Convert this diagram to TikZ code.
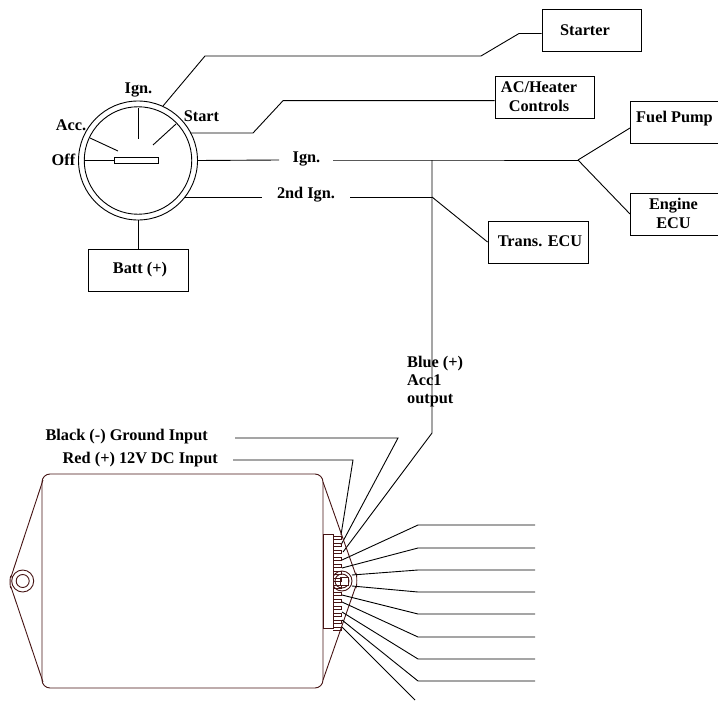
\documentclass[tikz,border=0pt]{standalone}
\usepackage{fontspec}
\setmainfont{Liberation Serif}
\tikzset{
  box/.style={draw,line width=0.9pt,rectangle},
  lbl/.style={font=\fontsize{16.3}{19}\selectfont\bfseries,inner sep=0pt,align=center},
  wire/.style={draw,line width=0.9pt},
  body/.style={draw=maroonc,line width=0.9pt},
}
\definecolor{maroonc}{RGB}{70,20,20}
\begin{document}
\begin{tikzpicture}[x=1pt,y=-1pt]
\useasboundingbox (0,0) rectangle (718,701);
% switch
\node[draw,circle,minimum size=119pt,inner sep=0pt,line width=0.9pt] (swo) at (138,160.5) {};
\node[draw,circle,minimum size=107.5pt,inner sep=0pt,line width=0.9pt] (swi) at (138,160.5) {};
\node[draw,line width=0.9pt,minimum width=44pt,minimum height=6pt,inner sep=0pt] (bar) at (136,160.5) {};
\coordinate (offp) at (84.3,160.5);
\draw[wire] (offp) -- (bar.west);
\coordinate (t1a) at (138,108); \coordinate (t1b) at (138,139);
\draw[wire] (t1a) -- (t1b);
\coordinate (t2a) at (90,138); \coordinate (t2b) at (118,151);
\draw[wire] (t2a) -- (t2b);
\coordinate (t3a) at (176,124); \coordinate (t3b) at (153,145);
\draw[wire] (t3a) -- (t3b);
\node[lbl] (lign) at (138.5,90) {Ign.};
\node[lbl] (lacc) at (71,125) {Acc.};
\node[lbl] (loff) at (63.5,160) {Off};
\node[lbl] (lsta) at (201.5,116) {Start};
% boxes
\node[box,minimum width=99pt,minimum height=42pt,inner sep=0pt] (starter) at (591.5,30) {};
\node[lbl] (tstarter) at (585,30) {Starter};
\node[box,minimum width=99pt,minimum height=42pt,inner sep=0pt] (ac) at (544.5,97) {};
\node[lbl] (tac) at (539,96.5) {AC/Heater\\Controls};
\node[box,minimum width=99pt,minimum height=42pt,inner sep=0pt] (fuel) at (680,122) {};
\node[lbl] (tfuel) at (674.5,119) {Fuel Pump};
\node[box,minimum width=99pt,minimum height=42pt,inner sep=0pt] (eng) at (680,214) {};
\node[lbl] (teng) at (673.5,213.5) {Engine\\ECU};
\node[box,minimum width=100pt,minimum height=42pt,inner sep=0pt] (trans) at (538,242) {};
\node[lbl] (ttrans) at (540,241.5) {Trans. ECU};
\node[box,minimum width=100pt,minimum height=42pt,inner sep=0pt] (batt) at (138,270) {};
\node[lbl] (tbatt) at (140,270) {Batt (+)};
\draw[wire] (swo.south) -- (batt.north);
% wires from switch
\coordinate (s1) at (205,56); \coordinate (s2) at (481,56); \coordinate (s3) at (519,33.5);
\draw[wire] (163,106) -- (s1) -- (s2) -- (s3) -- (starter.west |- s3);
\coordinate (a1) at (190,133); \coordinate (a2) at (253,133); \coordinate (a3) at (283,100.7);
\draw[wire] (a1) -- (a2) -- (a3) -- (ac.west |- a3);
\node[lbl] (lign2) at (306.5,159) {Ign.};
\node[lbl] (l2nd) at (306,195) {2nd Ign.};
\coordinate (j1) at (432,160); \coordinate (j2) at (578,160); \coordinate (j3) at (432,197);
\draw[wire] (swo.east) -- (279,160);
\draw[wire] (333,160) -- (j1) -- (j2);
\draw[wire] (j2) -- (630,128);
\draw[wire] (j2) -- (630,214);
\draw[wire] (185,197) -- (262,197);
\draw[wire] (350,197) -- (j3);
\draw[wire] (j3) -- (trans.west);
% acc wire
\coordinate (bluec) at (432,433);
\coordinate (blued) at (343,552);
\draw[wire] (j1) -- (bluec) -- (blued);
\node[lbl,align=left,anchor=north west,font=\fontsize{16.3}{18}\selectfont\bfseries] (tblue) at (407,356) {Blue (+)\\Acc1\\output};
% inputs
\node[lbl,anchor=east] (tblack) at (208,437) {Black (-) Ground Input};
\node[lbl,anchor=east] (tred) at (218,459.5) {Red (+) 12V DC Input};
\coordinate (b1) at (398,438); \coordinate (r1) at (353,460);
\draw[wire] (235,438) -- (b1) -- (341,545);
\draw[wire] (233,460) -- (r1) -- (341,535);
% module
\draw[body] (50,474) -- (315,474) to[out=0,in=90] (323,482) -- (323,680) to[out=-90,in=0] (315,688) -- (50,688) to[out=180,in=-90] (42,680) -- (42,482) to[out=90,in=180] (50,474);
\draw[body] (43,480) -- (11,577) to[out=108,in=-108] (11,587) -- (43,682);
\draw[body] (323,482) -- (355.5,574) to[out=70,in=-70] (355.5,587) -- (323,680);
\node[draw=maroonc,circle,line width=0.9pt,minimum size=22pt,inner sep=0pt] (h1) at (22.7,581) {};
\node[draw=maroonc,circle,line width=0.9pt,minimum size=13pt,inner sep=0pt] (h2) at (22.7,581) {};
\node[draw=maroonc,circle,line width=0.9pt,minimum size=20pt,inner sep=0pt] (h3) at (342,581) {};
\node[draw=maroonc,circle,line width=0.9pt,minimum size=14pt,inner sep=0pt] (h4) at (342,581) {};
\node[draw=maroonc,fill=white,line width=0.9pt,minimum width=8pt,minimum height=8pt,inner sep=0pt] (h5) at (344,581) {};
\node[draw=maroonc,fill=white,line width=0.9pt,minimum width=10pt,minimum height=94pt,inner sep=0pt,anchor=north west] (conn) at (323,534) {};
\foreach \y in {536,543,...,627} {
  \draw[body,line width=0.7pt] (333,\y) -- (341,\y) -- (341,\y+3.5) -- (333,\y+3.5);
}
% outputs
\foreach \n/\xa/\ya/\yb in {a/342/560/525,b/342/568/548,c/352/575/570,d/352/586/592,e/342/595/614,f/342/602/637,g/342/612/659,h/342/620/681}{
  \coordinate (o\n) at (418,\yb);
  \draw[wire] (\xa,\ya) -- (o\n) -- (535,\yb);
}
\coordinate (oend) at (415,700);
\draw[wire] (342,627) -- (oend);
\end{tikzpicture}
\end{document}
